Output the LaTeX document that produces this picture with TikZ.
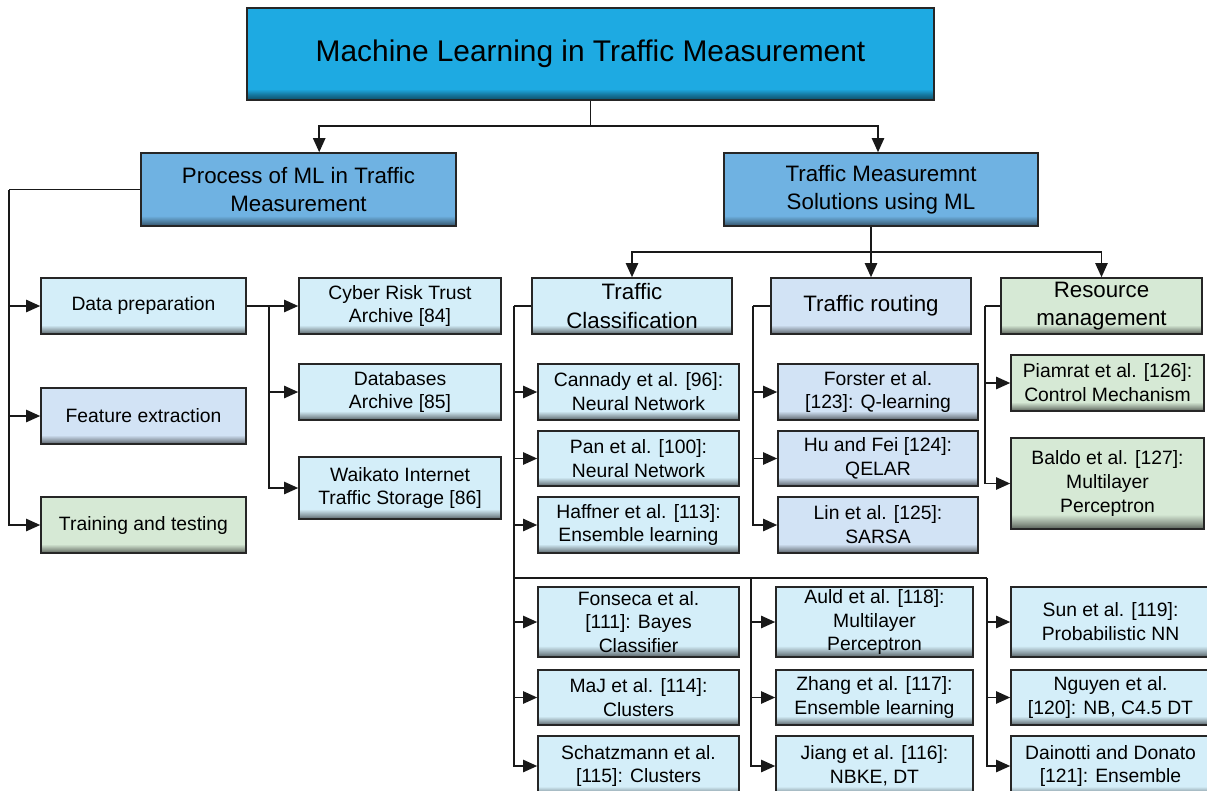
\documentclass[tikz,border=0pt]{standalone}
\usepackage{fontspec}
\setmainfont{Liberation Sans}
\usetikzlibrary{arrows.meta,calc}
\definecolor{cT}{HTML}{1EAAE2}
\definecolor{cM}{HTML}{6FB2E2}
\definecolor{cC}{HTML}{D4EEF9}
\definecolor{cB}{HTML}{D2E3F5}
\definecolor{cG}{HTML}{D6E9D5}
\pgfdeclareverticalshading{bevelT}{100bp}{color(0bp)=(cT!45!black); color(25bp)=(cT!45!black); color(28bp)=(cT!70!black); color(31bp)=(cT); color(100bp)=(cT)}
\pgfdeclareverticalshading{bevelM}{100bp}{color(0bp)=(cM!45!black); color(25bp)=(cM!45!black); color(28bp)=(cM!70!black); color(32bp)=(cM); color(100bp)=(cM)}
\pgfdeclareverticalshading{bevelC}{100bp}{color(0bp)=(cC!40!black); color(25bp)=(cC!40!black); color(28bp)=(cC!65!black); color(33bp)=(cC); color(100bp)=(cC)}
\pgfdeclareverticalshading{bevelB}{100bp}{color(0bp)=(cB!40!black); color(25bp)=(cB!40!black); color(28bp)=(cB!65!black); color(33bp)=(cB); color(100bp)=(cB)}
\pgfdeclareverticalshading{bevelG}{100bp}{color(0bp)=(cG!40!black); color(25bp)=(cG!40!black); color(28bp)=(cG!65!black); color(33bp)=(cG); color(100bp)=(cG)}
\newcommand\szS{\fontsize{11}{13.6}\selectfont}
\newcommand\szM{\fontsize{12.7}{16}\selectfont}
\newcommand\szL{\fontsize{17}{20}\selectfont}
\newcommand\bx[7]{\node[#2, minimum width={(#5-#3)*0.02cm}, minimum height={(#6-#4)*0.02cm}] (#1) at ({(#3+#5)/2},{(#4+#6)/2}) {#7};}
\tikzset{
  bx/.style={draw=black!85, line width=0.9pt, inner sep=1pt, align=center, font=\szS},
  btop/.style={bx, shade, shading=bevelT, font=\szL},
  bmid/.style={bx, shade, shading=bevelM, font=\szM},
  blc/.style={bx, shade, shading=bevelC},
  blb/.style={bx, shade, shading=bevelB},
  blg/.style={bx, shade, shading=bevelG},
  ln/.style={draw=black!90, line width=0.9pt},
  arr/.style={ln, -{Triangle[length=8pt,width=7pt]}},
}
\begin{document}
\begin{tikzpicture}[x=0.02cm,y=-0.02cm]
\useasboundingbox (0,0) rectangle (1207,791);
% boxes
\bx{top}{btop}{247}{8}{934}{100}{Machine Learning in Traffic Measurement}
\bx{proc}{bmid}{141}{153}{456}{226}{Process of ML in Traffic\\Measurement}
\bx{tms}{bmid}{724}{153}{1038}{226}{Traffic Measuremnt\\Solutions using ML}
\bx{dp}{blc}{41}{278}{246}{334}{Data preparation}
\bx{fe}{blb}{41}{388}{246}{444}{Feature extraction}
\bx{tt}{blg}{41}{497}{246}{553}{Training and testing}
\bx{cy}{blc}{299}{278}{501}{334}{Cyber Risk Trust\\Archive [84]}
\bx{db}{blc}{299}{364}{501}{420}{Databases\\Archive [85]}
\bx{wa}{blc}{299}{457}{501}{519}{Waikato Internet\\Traffic Storage [86]}
\bx{tc}{blc,font=\szM}{532}{278}{732}{334}{Traffic\\Classification}
\bx{tr}{blb,font=\szM}{771}{278}{971}{334}{Traffic routing}
\bx{rm}{blg,font=\szM}{1001}{278}{1202}{334}{Resource\\management}
\bx{ca}{blc}{538}{364}{739}{420}{Cannady et al. [96]:\\Neural Network}
\bx{pa}{blc}{538}{431}{739}{486}{Pan et al. [100]:\\Neural Network}
\bx{ha}{blc}{538}{497}{739}{553}{Haffner et al. [113]:\\Ensemble learning}
\bx{fo}{blc}{538}{587}{739}{657}{Fonseca et al.\\{[111]}: Bayes\\Classifier}
\bx{ma}{blc}{538}{670}{739}{725}{MaJ et al. [114]:\\Clusters}
\bx{sc}{blc}{538}{736}{739}{796}{Schatzmann et al.\\{[115]}: Clusters}
\bx{fs}{blb}{778}{364}{978}{420}{Forster et al.\\{[123]}: Q-learning}
\bx{hu}{blb}{778}{431}{978}{486}{Hu and Fei [124]:\\QELAR}
\bx{li}{blb}{778}{497}{978}{553}{Lin et al. [125]:\\SARSA}
\bx{pi}{blg}{1011}{355}{1204}{411}{Piamrat et al. [126]:\\Control Mechanism}
\bx{ba}{blg}{1011}{438}{1204}{529}{Baldo et al. [127]:\\Multilayer\\Perceptron}
\bx{au}{blc}{776}{587}{973}{657}{Auld et al. [118]:\\Multilayer\\Perceptron}
\bx{zh}{blc}{776}{670}{973}{725}{Zhang et al. [117]:\\Ensemble learning}
\bx{ji}{blc}{776}{736}{973}{796}{Jiang et al. [116]:\\NBKE, DT}
\bx{su}{blc}{1011}{587}{1210}{657}{Sun et al. [119]:\\Probabilistic NN}
\bx{ng}{blc}{1011}{670}{1210}{725}{Nguyen et al.\\{[120]}: NB, C4.5 DT}
\bx{dn}{blc}{1011}{736}{1210}{796}{Dainotti and Donato\\{[121]}: Ensemble}
% connectors
\draw[ln] (top.south) -- ++(0,25) coordinate (tj);
\draw[arr] (tj) -| ($(proc.north west)+(179,0)$);
\draw[arr] (tj) -| ($(tms.north)+(-3,0)$);
\draw[ln] (proc.west) -- ++(-131,0) coordinate (pj);
\draw[arr] (pj) |- (dp.west);
\draw[arr] (pj) |- (fe.west);
\draw[arr] (pj) |- (tt.west);
\draw[ln] (dp.east) -- ++(22,0) coordinate (dj);
\draw[arr] (dj) |- (cy.west);
\draw[arr] (dj) |- (db.west);
\draw[arr] (dj) |- (wa.west);
\draw[arr] (tr.north |- tms.south) -- (tr.north);
\coordinate (sj) at ($(tr.north |- tms.south)+(0,25)$);
\draw[arr] (sj) -| (tc.north);
\draw[arr] (sj) -| (rm.north);
\draw[ln] (tc.west) -- ++(-17,0) coordinate (cj);
\foreach \n in {ca,pa,ha,fo,ma,sc} \draw[arr] (cj) |- (\n.west);
\coordinate (m1) at (751,578);
\coordinate (m2) at (987,578);
\draw[ln] (cj |- m1) -- (m2);
\foreach \n in {au,zh,ji} \draw[arr] (m1) |- (\n.west);
\foreach \n in {su,ng,dn} \draw[arr] (m2) |- (\n.west);
\draw[ln] (tr.west) -- ++(-17,0) coordinate (rj);
\foreach \n in {fs,hu,li} \draw[arr] (rj) |- (\n.west);
\draw[ln] (rm.west) -- ++(-15,0) coordinate (mj);
\foreach \n in {pi,ba} \draw[arr] (mj) |- (\n.west);
\end{tikzpicture}
\end{document}
